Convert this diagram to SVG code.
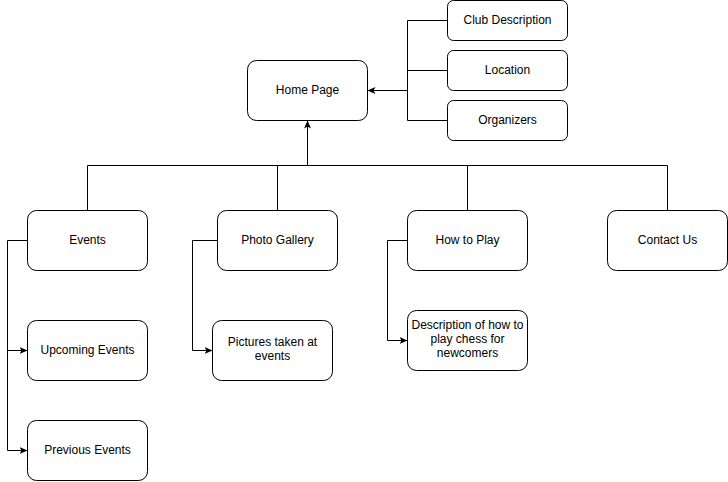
<svg xmlns="http://www.w3.org/2000/svg" width="728" height="482" viewBox="0 0 728 482">
<style>
.box{fill:#ffffff;stroke:#000000;stroke-width:1}
.lbl{font-family:"Liberation Sans",Arial,sans-serif;font-size:12px;fill:#000000;text-anchor:middle;dominant-baseline:central}
.edge{fill:none;stroke:#000000;stroke-width:1}
.arr{marker-end:url(#ah)}
</style>
<defs>
<marker id="ah" markerUnits="userSpaceOnUse" viewBox="0 0 8 8" refX="7.5" refY="4" markerWidth="8" markerHeight="8" orient="auto">
<path d="M0,0.5 L8,4 L0,7.5 L2,4 Z" fill="#000000" stroke="none"/>
</marker>
</defs>
<rect width="728" height="482" fill="#ffffff"/>
<g id="connectors">
<path class="edge" d="M447.5,20.5 H407.5 V120.5 H447.5"/>
<path class="edge" d="M447.5,70.5 H407.5"/>
<path class="edge arr" d="M407.5,90.5 H368"/>
<path class="edge" d="M87.5,210.5 V165.5 H667.5 V210.5"/>
<path class="edge" d="M277.5,210.5 V165.5"/>
<path class="edge" d="M467.5,210.5 V165.5"/>
<path class="edge arr" d="M307.5,165.5 V121"/>
<path class="edge arr" d="M27.5,240.5 H7.5 V350.5 H27"/>
<path class="edge arr" d="M7.5,350.5 V450.5 H27"/>
<path class="edge arr" d="M217.5,240.5 H192.5 V350.5 H212"/>
<path class="edge arr" d="M407.5,240.5 H387.5 V340.5 H407"/>
</g>
<g id="home"><rect class="box" x="247.5" y="60.5" width="120" height="60" rx="9"/><text class="lbl" x="307.5" y="89.5">Home Page</text></g>
<g id="club"><rect class="box" x="447.5" y="0.5" width="120" height="40" rx="6"/><text class="lbl" x="507.5" y="19.5">Club Description</text></g>
<g id="location"><rect class="box" x="447.5" y="50.5" width="120" height="40" rx="6"/><text class="lbl" x="507.5" y="69.5">Location</text></g>
<g id="organizers"><rect class="box" x="447.5" y="100.5" width="120" height="40" rx="6"/><text class="lbl" x="507.5" y="119.5">Organizers</text></g>
<g id="events"><rect class="box" x="27.5" y="210.5" width="120" height="60" rx="9"/><text class="lbl" x="87.5" y="239.5">Events</text></g>
<g id="gallery"><rect class="box" x="217.5" y="210.5" width="120" height="60" rx="9"/><text class="lbl" x="277.5" y="239.5">Photo Gallery</text></g>
<g id="howto"><rect class="box" x="407.5" y="210.5" width="120" height="60" rx="9"/><text class="lbl" x="467.5" y="239.5">How to Play</text></g>
<g id="contact"><rect class="box" x="607.5" y="210.5" width="120" height="60" rx="9"/><text class="lbl" x="667.5" y="239.5">Contact Us</text></g>
<g id="upcoming"><rect class="box" x="27.5" y="320.5" width="120" height="60" rx="9"/><text class="lbl" x="87.5" y="349.5">Upcoming Events</text></g>
<g id="previous"><rect class="box" x="27.5" y="420.5" width="120" height="60" rx="9"/><text class="lbl" x="87.5" y="449.5">Previous Events</text></g>
<g id="pictures"><rect class="box" x="212.5" y="320.5" width="120" height="60" rx="9"/><text class="lbl" x="272.5" y="342">Pictures taken at</text><text class="lbl" x="272.5" y="356">events</text></g>
<g id="description"><rect class="box" x="407.5" y="310.5" width="120" height="60" rx="9"/><text class="lbl" x="467.5" y="325">Description of how to</text><text class="lbl" x="467.5" y="339">play chess for</text><text class="lbl" x="467.5" y="353">newcomers</text></g>
</svg>
